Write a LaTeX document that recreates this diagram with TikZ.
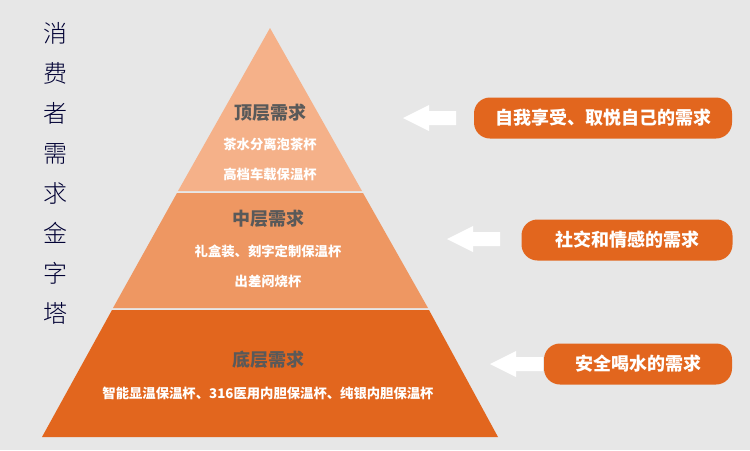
\documentclass[tikz,border=0pt]{standalone}
\usepackage{fontspec}
\setmainfont{Noto Sans CJK SC}
\newfontfamily\cjklight{Noto Sans CJK SC Light}
\begin{document}
\begin{tikzpicture}[x=0.75pt,y=-0.75pt,
  head/.style={font=\bfseries\fontsize{13.5}{15}\selectfont, text=black!65},
  item/.style={font=\bfseries\fontsize{10}{12}\selectfont, text=white},
  pill/.style={fill=orgD, rounded corners=12pt, font=\bfseries\fontsize{13.5}{15}\selectfont, text=white},
  warrow/.style={fill=white, draw=none}]
\definecolor{bg}{HTML}{E7E7E7}
\definecolor{orgA}{HTML}{F5B189}
\definecolor{orgB}{HTML}{EE9762}
\definecolor{orgD}{HTML}{E2661E}
\fill[bg] (0,0) rectangle (750,450);
\useasboundingbox (0,0) rectangle (750,450);
% pyramid layers
\fill[orgA] (270,28) -- (362,191) -- (178,191) -- cycle;
\fill[orgB] (177,193) -- (363,193) -- (428,308) -- (113,308) -- cycle;
\fill[orgD] (112,310) -- (429,310) -- (498,437) -- (42,437) -- cycle;
\node[head] (h1) at (270,113) {顶层需求};
\node[item] (t1) at (270,144) {茶水分离泡茶杯};
\node[item] (t2) at (270,174) {高档车载保温杯};
\node[head] (h2) at (268,219) {中层需求};
\node[item] (m1) at (268,251) {礼盒装、刻字定制保温杯};
\node[item] (m2) at (268,281) {出差闷烧杯};
\node[head] (h3) at (268,360) {底层需求};
\node[item] (b1) at (268,393) {智能显温保温杯、316医用内胆保温杯、纯银内胆保温杯};
% vertical title
\node[font=\cjklight\fontsize{18}{30}\selectfont, text=black!80!blue, align=center, inner sep=0] (title) at (55,173) {消\\费\\者\\需\\求\\金\\字\\塔};
% pills
\node[pill, minimum width=258*0.75pt, minimum height=41*0.75pt] (p1) at (603,118) {自我享受、取悦自己的需求};
\node[pill, minimum width=211*0.75pt, minimum height=41*0.75pt] (p2) at (627,240) {社交和情感的需求};
\node[pill, minimum width=188*0.75pt, minimum height=41*0.75pt] (p3) at (638,364) {安全喝水的需求};
% arrows
\fill[warrow] (403,118) -- (429,105) -- (429,111) -- (456,111) -- (456,125) -- (429,125) -- (429,131) -- cycle;
\fill[warrow] (447,239) -- (473,226) -- (473,232) -- (500,232) -- (500,246) -- (473,246) -- (473,252) -- cycle;
\fill[warrow] (490,364) -- (516,351) -- (516,357) -- (543,357) -- (543,371) -- (516,371) -- (516,377) -- cycle;
\end{tikzpicture}
\end{document}
